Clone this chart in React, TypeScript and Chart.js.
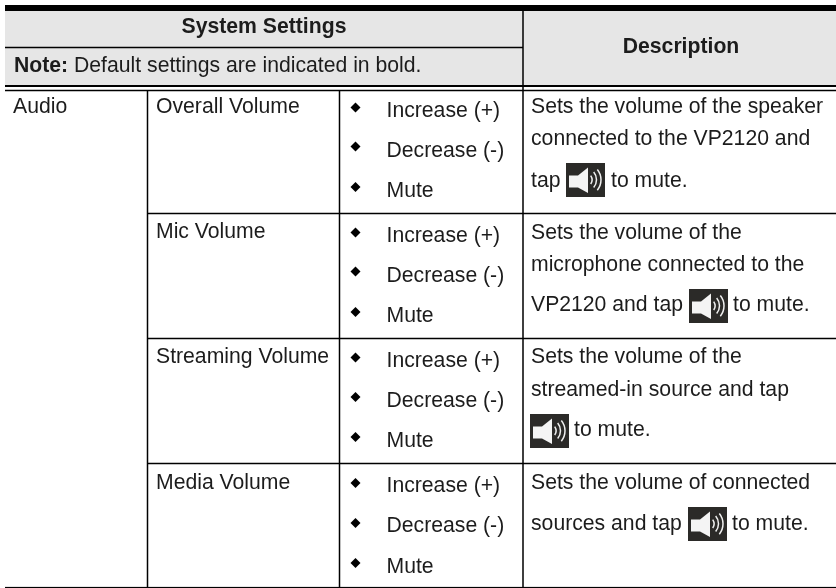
import React, { useEffect, useRef } from "react";
import { Chart, registerables } from "chart.js";

Chart.register(...registerables);

// ---- table content ----
const headerTitle = "System Settings";
const headerDescription = "Description";
const noteBold = "Note:";
const noteText = " Default settings are indicated in bold.";
const groupName = "Audio";
const settingNames = ["Overall Volume", "Mic Volume", "Streaming Volume", "Media Volume"];
const optionLabels = ["Increase (+)", "Decrease (-)", "Mute"];
const descriptions: string[][] = [
  ["Sets the volume of the speaker", "connected to the VP2120 and", "tap |icon| to mute."],
  ["Sets the volume of the", "microphone connected to the", "VP2120 and tap |icon| to mute."],
  ["Sets the volume of the", "streamed-in source and tap", "|icon| to mute."],
  ["Sets the volume of connected", "sources and tap |icon| to mute."],
];

// ---- layout, in page units (the hidden scales run 1:1 with the canvas) ----
const W = 836;
const H = 588;
const LEFT = 5;
const COL_A = 147.5;
const COL_B = 339.5;
const COL_C = 523;
const ROW_LINES = [213.5, 338.5, 463.5];
const NAME_BASE = [113, 238, 363, 489];
const OPTION_BASE = [[117, 157, 197], [242, 282, 322], [367, 407, 447], [492, 532, 573]];
const BULLET_Y = [[107.5, 146.5, 187], [232.5, 271.5, 312], [357.5, 397, 437], [483, 523, 563]];
const DESC_BASE = [[113, 145, 187], [239, 271, 311], [363, 396, 436], [489, 530]];
const ICONS = [
  { x: 566, y: 163, textX: 611 },
  { x: 689, y: 289, textX: 733 },
  { x: 530, y: 414, textX: 574 },
  { x: 688, y: 507, textX: 732 },
];
const bulletPoints = BULLET_Y.flat().map((y) => ({ x: 355.5, y }));

const FONT = '"Liberation Sans", Arial, sans-serif';
const SIZE = 21.2;
const INK = "#1c1c1c";

const tablePlugin = {
  id: "tableDraw",
  beforeDatasetsDraw(chart: any) {
    const { ctx, scales } = chart;
    const X = (v: number) => scales.x.getPixelForValue(v);
    const Y = (v: number) => scales.y.getPixelForValue(v);
    const hline = (y: number, w: number, x0 = LEFT, x1 = W) => {
      ctx.fillStyle = "#000";
      ctx.fillRect(X(x0), Y(y - w / 2), X(x1) - X(x0), w);
    };
    const vline = (x: number, y0: number, y1: number, w = 1.5) => {
      ctx.fillStyle = "#000";
      ctx.fillRect(X(x - w / 2), Y(y0), w, Y(y1) - Y(y0));
    };
    const text = (s: string, x: number, y: number, bold = false, align: CanvasTextAlign = "left") => {
      ctx.font = `${bold ? "bold " : ""}${SIZE}px ${FONT}`;
      ctx.fillStyle = INK;
      ctx.textAlign = align;
      ctx.textBaseline = "alphabetic";
      ctx.fillText(s, X(x), Y(y));
    };

    ctx.save();
    // header background
    ctx.fillStyle = "#e6e6e6";
    ctx.fillRect(X(LEFT), Y(10), X(W) - X(LEFT), Y(85) - Y(10));

    // rules
    hline(8, 6);
    hline(47.5, 1.5, LEFT, COL_C);
    hline(86, 2);
    hline(90.5, 1.5);
    ROW_LINES.forEach((y) => hline(y, 1.5, COL_A, W));
    hline(587.5, 1.2);
    vline(COL_C, 10, H);
    vline(COL_A, 91, H);
    vline(COL_B, 91, H);

    // header text
    text(headerTitle, 264, 33, true, "center");
    text(headerDescription, 681, 53, true, "center");
    text(noteBold, 14, 72, true);
    ctx.font = `bold ${SIZE}px ${FONT}`;
    const nw = ctx.measureText(noteBold).width;
    text(noteText, 14 + nw, 72);

    // body
    text(groupName, 13, 113);
    settingNames.forEach((n, i) => text(n, 156, NAME_BASE[i]));
    OPTION_BASE.forEach((row) => row.forEach((y, j) => text(optionLabels[j], 386.5, y)));

    const drawIcon = (x: number, y: number) => {
      const px = X(x);
      const py = Y(y);
      ctx.fillStyle = "#2b2a28";
      ctx.fillRect(px, py, 39, 34);
      ctx.fillStyle = "#f4f4f4";
      ctx.beginPath();
      ctx.moveTo(px + 3, py + 12.5);
      ctx.lineTo(px + 12, py + 12.5);
      ctx.lineTo(px + 22, py + 4.5);
      ctx.lineTo(px + 22, py + 30);
      ctx.lineTo(px + 12, py + 24.5);
      ctx.lineTo(px + 3, py + 24.5);
      ctx.closePath();
      ctx.fill();
      ctx.strokeStyle = "#f0f0f0";
      ctx.lineWidth = 1.5;
      [
        [7.5, 0.6],
        [12, 0.7],
        [16.5, 0.68],
      ].forEach(([r, a]) => {
        ctx.beginPath();
        ctx.arc(px + 18.5, py + 16.8, r, -a, a);
        ctx.stroke();
      });
    };

    descriptions.forEach((lines, i) => {
      lines.forEach((ln, j) => {
        const y = DESC_BASE[i][j];
        if (ln.includes("|icon|")) {
          const [before, after] = ln.split("|icon|");
          if (before) text(before.trimEnd(), 531, y);
          const ic = ICONS[i];
          drawIcon(ic.x, ic.y);
          text(after.trimStart(), ic.textX, y);
        } else {
          text(ln, 531, y);
        }
      });
    });
    ctx.restore();
  },
};

export default function App() {
  const ref = useRef<HTMLCanvasElement | null>(null);
  useEffect(() => {
    document.body.style.margin = "0";
    document.body.style.background = "#fff";
    const chart = new Chart(ref.current as HTMLCanvasElement, {
      type: "scatter",
      data: {
        datasets: [
          {
            data: bulletPoints,
            pointStyle: "rectRot",
            pointRadius: 5,
            backgroundColor: "#000",
            borderWidth: 0,
            showLine: false,
          },
        ],
      },
      options: {
        animation: false,
        responsive: false,
        events: [],
        layout: { padding: 0, autoPadding: false },
        plugins: { legend: { display: false }, tooltip: { enabled: false } },
        scales: {
          x: { type: "linear", min: 0, max: W, display: false },
          y: { type: "linear", min: 0, max: H, reverse: true, display: false },
        },
      },
      plugins: [tablePlugin],
    } as any);
    return () => chart.destroy();
  }, []);
  return <canvas ref={ref} width={W} height={H} style={{ display: "block", width: W, height: H }} />;
}
